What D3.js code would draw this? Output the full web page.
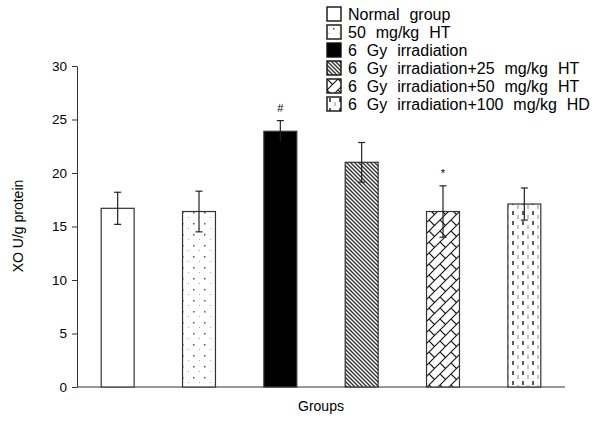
<!DOCTYPE html>
<html>
<head>
<meta charset="utf-8">
<script src="https://cdn.jsdelivr.net/npm/d3@7"></script>
<style>
  body { margin: 0; background: #fff; }
  text { font-family: "Liberation Sans", Arial, sans-serif; white-space: pre; }
</style>
</head>
<body>
<div id="container"></div>
<script>
// data
let groups = ["Normal  group", "50  mg/kg  HT", "6  Gy  irradiation",
  "6  Gy  irradiation+25  mg/kg  HT", "6  Gy  irradiation+50  mg/kg  HT",
  "6  Gy  irradiation+100  mg/kg  HD"];
let means = [16.7, 16.4, 23.9, 21.0, 16.4, 17.1];
let errors = [1.5, 1.9, 1.0, 1.85, 2.4, 1.5];
let marks = ["", "", "#", "", "*", ""];
let fills = ["white", "url(#dots)", "black", "url(#diag)", "url(#brick)", "url(#vdash)"];
let yTicks = [0, 5, 10, 15, 20, 25, 30];

let w = 614;
let h = 421;

let viz = d3.select("#container")
  .append("svg")
    .attr("width", w)
    .attr("height", h)
;

let defs = viz.append("defs");

// dotted pattern
let dots = defs.append("pattern").attr("id", "dots")
  .attr("patternUnits", "userSpaceOnUse").attr("width", 11).attr("height", 11);
dots.append("rect").attr("width", 11).attr("height", 11).attr("fill", "white");
dots.append("rect").attr("x", 6).attr("y", 3).attr("width", 1.5).attr("height", 1.5).attr("fill", "#555");
dots.append("rect").attr("x", 1).attr("y", 8).attr("width", 1).attr("height", 1).attr("fill", "#aaa");

// dense diagonal stripes
let diag = defs.append("pattern").attr("id", "diag")
  .attr("patternUnits", "userSpaceOnUse").attr("width", 4).attr("height", 4);
diag.append("rect").attr("width", 4).attr("height", 4).attr("fill", "white");
diag.append("path").attr("d", "M-1,-1 L5,5 M-1,3 L1,5 M3,-1 L5,1")
  .attr("stroke", "#333").attr("stroke-width", 1.4);

// brick hatch: long "/" lines with short staggered "\" segments
let brick = defs.append("pattern").attr("id", "brick")
  .attr("patternUnits", "userSpaceOnUse").attr("width", 11).attr("height", 11);
brick.append("rect").attr("width", 11).attr("height", 11).attr("fill", "white");
brick.append("path").attr("d", "M-1,12 L12,-1 M-1,1 L1,-1 M10,12 L12,10 M0,0 L5.5,5.5")
  .attr("stroke", "#111").attr("stroke-width", 1.1).attr("fill", "none");

// vertical dashed lines
let vdash = defs.append("pattern").attr("id", "vdash")
  .attr("patternUnits", "userSpaceOnUse").attr("width", 10).attr("height", 10);
vdash.append("rect").attr("width", 10).attr("height", 10).attr("fill", "white");
vdash.append("line").attr("x1", 3).attr("x2", 3).attr("y1", 1).attr("y2", 5)
  .attr("stroke", "#222").attr("stroke-width", 1.5);
vdash.append("line").attr("x1", 8).attr("x2", 8).attr("y1", 5).attr("y2", 9)
  .attr("stroke", "#888").attr("stroke-width", 1);

// scales
let xScale = d3.scaleBand()
  .domain(d3.range(groups.length))
  .range([77, 565])
  .paddingInner(0.595)
  .paddingOuter(0.2975)
;
let yScale = d3.scaleLinear().domain([0, 30]).range([387, 66]);

// y axis
let yAxis = d3.axisLeft(yScale).tickValues(yTicks).tickSize(5).tickSizeOuter(0).tickPadding(5);
let yAxisGroup = viz.append("g")
    .attr("class", "yaxisgroup")
    .attr("transform", "translate(77,0)")
;
yAxisGroup.call(yAxis);
yAxisGroup.selectAll("text").style("font-size", "13.5px").attr("fill", "#000")
  .style("font-family", "'Liberation Sans', Arial, sans-serif");
yAxisGroup.selectAll("line, path").attr("stroke", "#333");

// x axis line
viz.append("line")
  .attr("x1", 77).attr("x2", 565)
  .attr("y1", yScale(0)).attr("y2", yScale(0))
  .attr("stroke", "#333");

// bars
viz.selectAll(".bar").data(means).enter()
  .append("rect")
    .attr("class", "bar")
    .attr("x", function(d, i){ return xScale(i); })
    .attr("y", function(d){ return yScale(d); })
    .attr("width", xScale.bandwidth())
    .attr("height", function(d){ return yScale(0) - yScale(d); })
    .attr("fill", function(d, i){ return fills[i]; })
    .attr("stroke", "#333")
    .attr("stroke-width", 1.2)
;

// error bars
let eb = viz.selectAll(".err").data(means).enter().append("g").attr("class", "err");
eb.append("line")
  .attr("x1", function(d, i){ return xScale(i) + xScale.bandwidth() / 2; })
  .attr("x2", function(d, i){ return xScale(i) + xScale.bandwidth() / 2; })
  .attr("y1", function(d, i){ return yScale(d - errors[i]); })
  .attr("y2", function(d, i){ return yScale(d + errors[i]); })
  .attr("stroke", "#222").attr("stroke-width", 1.2);
eb.append("line")
  .attr("x1", function(d, i){ return xScale(i) + xScale.bandwidth() / 2 - 3.5; })
  .attr("x2", function(d, i){ return xScale(i) + xScale.bandwidth() / 2 + 3.5; })
  .attr("y1", function(d, i){ return yScale(d + errors[i]); })
  .attr("y2", function(d, i){ return yScale(d + errors[i]); })
  .attr("stroke", "#222").attr("stroke-width", 1.2);
eb.append("line")
  .attr("x1", function(d, i){ return xScale(i) + xScale.bandwidth() / 2 - 3.5; })
  .attr("x2", function(d, i){ return xScale(i) + xScale.bandwidth() / 2 + 3.5; })
  .attr("y1", function(d, i){ return yScale(d - errors[i]); })
  .attr("y2", function(d, i){ return yScale(d - errors[i]); })
  .attr("stroke", function(d, i){ return i == 2 ? "black" : "#222"; }).attr("stroke-width", 1.2);

// significance marks
viz.selectAll(".mark").data(means).enter()
  .append("text")
    .attr("class", "mark")
    .attr("x", function(d, i){ return xScale(i) + xScale.bandwidth() / 2; })
    .attr("y", function(d, i){ return yScale(d + errors[i]) - 9; })
    .attr("text-anchor", "middle")
    .style("font-size", "11px")
    .text(function(d, i){ return marks[i]; })
;

// axis titles
viz.append("text")
  .attr("x", 321).attr("y", 411)
  .attr("text-anchor", "middle")
  .style("font-size", "14px")
  .text("Groups");
viz.append("text")
  .attr("transform", "translate(23,226) rotate(-90)")
  .attr("text-anchor", "middle")
  .style("font-size", "14px")
  .text("XO U/g protein");

// legend
let legend = viz.selectAll(".leg").data(groups).enter()
  .append("g")
    .attr("class", "leg")
    .attr("transform", function(d, i){ return "translate(327," + (7 + i * 18) + ")"; })
;
legend.append("rect")
  .attr("width", 14).attr("height", 14)
  .attr("fill", function(d, i){ return fills[i]; })
  .attr("stroke", "#111").attr("stroke-width", 1.4);
legend.append("text")
  .attr("x", 21).attr("y", 12.5)
  .style("font-size", "16px")
  .style("word-spacing", "0.5px")
  .text(function(d){ return d; });
</script>
</body>
</html>
